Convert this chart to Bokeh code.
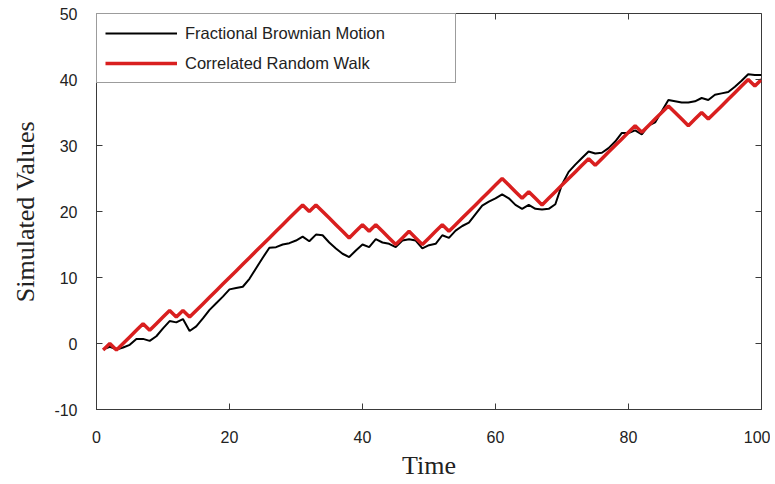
import math
from bokeh.plotting import figure
from bokeh.models import Legend, LegendItem, FixedTicker, Range1d
from bokeh.embed import file_html
from bokeh.resources import INLINE

# ---- data ----
time = list(range(1, 101))

fbm = [-0.9, -0.5, -0.9, -0.6, -0.2, 0.7, 0.7, 0.4, 1.1, 2.3,
       3.4, 3.2, 3.7, 1.9, 2.6, 3.8, 5.1, 6.1, 7.1, 8.2,
       8.4, 8.6, 9.8, 11.4, 13.0, 14.5, 14.6, 15.0, 15.2, 15.6,
       16.2, 15.5, 16.5, 16.4, 15.3, 14.4, 13.6, 13.1, 14.1, 15.0,
       14.6, 15.8, 15.3, 15.1, 14.6, 15.6, 15.8, 15.6, 14.4, 14.9,
       15.1, 16.4, 16.0, 17.1, 17.8, 18.3, 19.6, 20.9, 21.5, 22.0,
       22.6, 22.0, 21.0, 20.4, 21.0, 20.4, 20.3, 20.4, 21.1, 24.1,
       26.0, 27.1, 28.1, 29.1, 28.8, 28.9, 29.6, 30.6, 31.9, 31.9,
       32.3, 31.7, 33.0, 33.5, 35.2, 36.9, 36.7, 36.5, 36.5, 36.7,
       37.2, 36.9, 37.7, 37.9, 38.1, 38.9, 39.8, 40.8, 40.7, 40.7]

crw = [-1, 0, -1, 0, 1, 2, 3, 2, 3, 4,
       5, 4, 5, 4, 5, 6, 7, 8, 9, 10,
       11, 12, 13, 14, 15, 16, 17, 18, 19, 20,
       21, 20, 21, 20, 19, 18, 17, 16, 17, 18,
       17, 18, 17, 16, 15, 16, 17, 16, 15, 16,
       17, 18, 17, 18, 19, 20, 21, 22, 23, 24,
       25, 24, 23, 22, 23, 22, 21, 22, 23, 24,
       25, 26, 27, 28, 27, 28, 29, 30, 31, 32,
       33, 32, 33, 34, 35, 36, 35, 34, 33, 34,
       35, 34, 35, 36, 37, 38, 39, 40, 39, 40]

x_ticks = [0, 20, 40, 60, 80, 100]
y_ticks = [-10, 0, 10, 20, 30, 40, 50]
x_limits = (0, 100)
y_limits = (-10, 50)
series_names = ["Fractional Brownian Motion", "Correlated Random Walk"]

AX = "#3a3a3a"
TXT = "#222222"

p = figure(width=770, height=482,
           x_range=Range1d(*x_limits), y_range=Range1d(*y_limits),
           output_backend="svg", toolbar_location=None,
           min_border_left=96, min_border_right=9,
           min_border_top=13, min_border_bottom=70)

p.background_fill_color = "white"
p.border_fill_color = "white"
p.outline_line_color = AX
p.xgrid.grid_line_color = None
p.ygrid.grid_line_color = None

r_black = p.line(time, fbm, line_color="black", line_width=2)
r_red = p.line(time, crw, line_color="#d91f1f", line_width=3.5)

for ax, ticks in ((p.xaxis[0], x_ticks), (p.yaxis[0], y_ticks)):
    ax.ticker = FixedTicker(ticks=ticks)
    ax.major_label_overrides = {t: str(t) for t in ticks}
    ax.major_tick_in = 6
    ax.major_tick_out = 0
    ax.minor_tick_line_color = None
    ax.axis_line_color = AX
    ax.major_tick_line_color = AX
    ax.major_label_text_font = "Liberation Sans"
    ax.major_label_text_font_size = "16px"
    ax.major_label_text_color = TXT
    ax.axis_label_text_font = "Liberation Serif"
    ax.axis_label_text_font_size = "26px"
    ax.axis_label_text_font_style = "normal"
    ax.axis_label_text_color = TXT

p.xaxis.axis_label = "Time"
p.yaxis.axis_label = "Simulated Values"
p.xaxis.major_label_standoff = 21
p.xaxis.axis_label_standoff = 5
p.yaxis.major_label_standoff = 19
p.yaxis.axis_label_standoff = 11

# inward box ticks on the right and top spines (MATLAB "box on")
p.scatter([x_limits[1]] * len(y_ticks), y_ticks, marker="dash", size=12,
          line_color=AX, line_width=1)
p.scatter(x_ticks, [y_limits[1]] * len(x_ticks), marker="dash", size=12,
          angle=math.pi / 2, line_color=AX, line_width=1)

legend = Legend(items=[LegendItem(label=series_names[0], renderers=[r_black]),
                       LegendItem(label=series_names[1], renderers=[r_red])],
                location="top_left", margin=0, padding=8, spacing=8,
                glyph_width=72, glyph_height=22, label_height=22, label_width=262,
                label_standoff=8, label_text_font="Liberation Sans",
                label_text_font_size="16.5px", label_text_color=TXT,
                border_line_color=AX, border_line_width=1,
                background_fill_color="white", background_fill_alpha=1)
p.add_layout(legend)

open("out.html", "w").write(file_html(p, INLINE))
